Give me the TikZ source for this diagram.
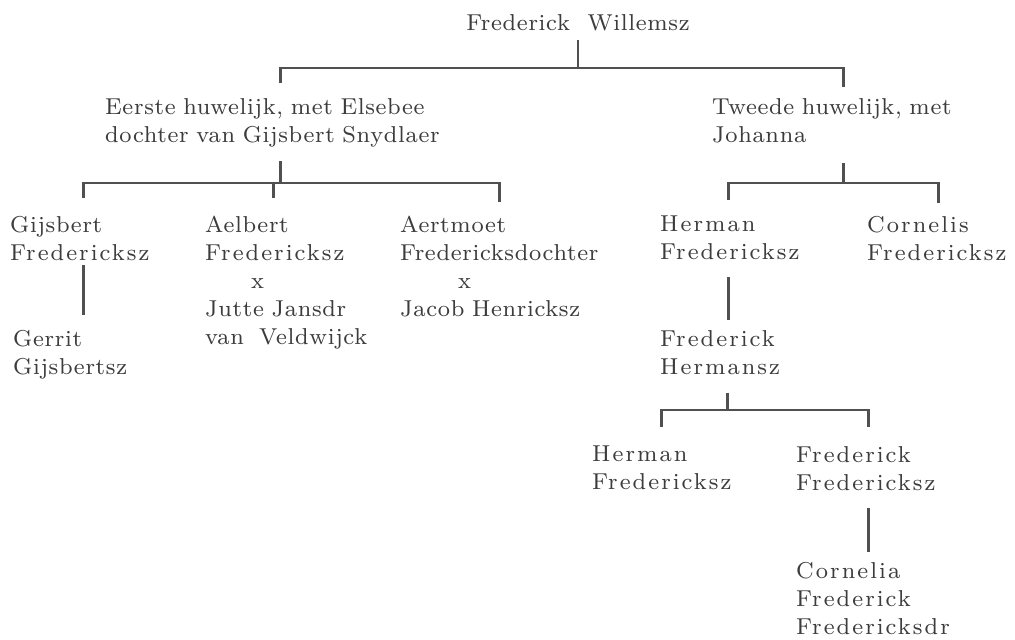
\documentclass[tikz,border=0pt]{standalone}
\usepackage{fontspec}
\setmainfont{lmroman8-regular.otf}[LetterSpace=3]
\newfontfamily\wide{lmroman8-regular.otf}[LetterSpace=9]
\usepackage{tikz}

\definecolor{ink}{HTML}{3C3C3C}
\tikzset{
  who/.style={inner sep=0pt, text=ink, font=\fontsize{23}{28}\selectfont},
  person/.style={who, anchor=north west, text width=140pt, align=left,
    execute at begin node={\hyphenpenalty=10000\relax}},
  tree/.style={draw=ink!90, line width=2.6pt}
}

\begin{document}
\begin{tikzpicture}[x=1pt,y=-1pt]
\useasboundingbox[fill=white] (0,0) rectangle (1015,640);

\coordinate (bar0) at (0,68);
\coordinate (bar1) at (0,183);
\coordinate (bar2) at (0,410);

% Frederick Willemsz and his two marriages
\node[who, anchor=north] (fw) at (578,14) {Frederick\ \ Willemsz};
\node[person, text width=350pt] (m1) at (105,98) {Eerste~huwelijk,~met~Elsebee\\dochter~van~Gijsbert~Snydlaer};
\node[person, text width=262pt] (m2) at (712,98) {Tweede~huwelijk,~met\\Johanna};

\draw[tree, shorten <=9pt] (fw.south) -- (fw.south |- bar0);
\draw[tree, shorten <=15pt, shorten >=11pt] (m1.north) |- (m2.north |- bar0) -- (m2.north);

% Children of the first marriage
\node[person, text width=146pt] (g1) at (10,216) {Gijsbert\\{\wide Fredericksz}};
\node[person, text width=136pt] (g2) at (205,216) {Aelbert\\{\wide Fredericksz}\\\hspace*{46pt}x\\Jutte~Jansdr\\van~~Veldwijck};
\node[person, text width=198pt] (g3) at (400,216) {Aertmoet\\Fredericksdochter\\\hspace*{58pt}x\\Jacob~Henricksz};
\node[person] (gg) at (13,330) {Gerrit\\Gijsbertsz};

\draw[tree, shorten <=14pt] (m1.south) -- (m1.south |- bar1);
\draw[tree, shorten <=18pt, shorten >=14pt] (g1.north) |- (g3.north |- bar1) -- (g3.north);
\draw[tree, shorten >=18pt] (g2.north |- bar1) -- (g2.north);
\draw[tree, shorten <=4pt, shorten >=15pt] (g1.south) -- (g1.south |- gg.north);

% Children of the second marriage
\node[person, text width=136pt] (h1) at (660,216) {\wide Herman\\Fredericksz};
\node[person, text width=142pt] (c1) at (867,216) {\wide Cornelis\\Fredericksz};
\node[person, text width=134pt] (fh) at (660,330) {\wide Frederick\\Hermansz};

\draw[tree, shorten <=20pt] (m2.south) -- (m2.south |- bar1);
\draw[tree, shorten <=16pt, shorten >=13pt] (h1.north) |- (c1.north |- bar1) -- (c1.north);
\draw[tree, shorten <=17pt, shorten >=10pt] (h1.south) -- (h1.south |- fh.north);

% Grandchildren
\node[person, text width=138pt] (h2) at (592,446) {\wide Herman\\Fredericksz};
\node[person, text width=144pt] (f2) at (796,446) {\wide Frederick\\Fredericksz};
\node[person, text width=144pt] (cf) at (796,562) {\wide Cornelia\\Frederick\\Fredericksdr};

\draw[tree, shorten <=18pt] (fh.south) -- (fh.south |- bar2);
\draw[tree, shorten <=19pt, shorten >=19pt] (h2.north) |- (f2.north |- bar2) -- (f2.north);
\draw[tree, shorten <=17pt, shorten >=10pt] (f2.south) -- (f2.south |- cf.north);

\end{tikzpicture}
\end{document}
